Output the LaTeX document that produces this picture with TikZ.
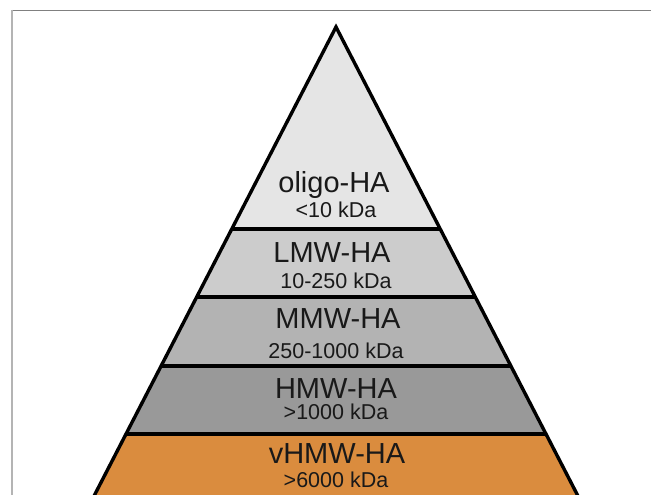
\documentclass[tikz,border=0pt]{standalone}
\usepackage{fontspec}
\setmainfont{Liberation Sans}
\definecolor{bandA}{RGB}{229,229,229}
\definecolor{bandB}{RGB}{204,204,204}
\definecolor{bandC}{RGB}{179,179,179}
\definecolor{bandD}{RGB}{153,153,153}
\definecolor{bandE}{RGB}{218,140,62}
\definecolor{frametop}{RGB}{128,128,128}
\definecolor{frameleft}{RGB}{180,180,180}
\tikzset{
  title/.style={anchor=base, inner sep=0pt, font=\fontsize{29}{29}\selectfont, text=black!90},
  sub/.style={anchor=base, inner sep=0pt, font=\fontsize{21.5}{21.5}\selectfont, text=black!90},
  edge/.style={line width=3.4pt, line join=miter}
}
\begin{document}
\begin{tikzpicture}[x=1pt,y=-1pt]
\useasboundingbox (0,0) rectangle (651,495);
\clip (0,0) rectangle (651,495);
\fill[white] (0,0) rectangle (651,495);
% frame
\draw[frametop, line width=1.6pt] (11,10.5) -- (651,10.5);
\draw[frameleft, line width=2pt] (12,10) -- (12,495);
% bands
\fill[bandA] (336,27) -- (440.2,229) -- (231.8,229) -- cycle;
\fill[bandB] (231.8,229) -- (440.2,229) -- (475.3,297) -- (196.7,297) -- cycle;
\fill[bandC] (196.7,297) -- (475.3,297) -- (510.9,366) -- (161.1,366) -- cycle;
\fill[bandD] (161.1,366) -- (510.9,366) -- (546.0,434) -- (126.0,434) -- cycle;
\fill[bandE] (126.0,434) -- (546.0,434) -- (585.2,510) -- (86.8,510) -- cycle;
% outline and separators
\draw[edge] (86.8,510) -- (336,27) -- (585.2,510);
\draw[edge] (231.8,229) -- (440.2,229);
\draw[edge] (196.7,297) -- (475.3,297);
\draw[edge] (161.1,366) -- (510.9,366);
\draw[edge] (126.0,434) -- (546.0,434);
% labels
\node[title] (t1) at (334,192) {oligo-HA};
\node[sub] (s1) at (336,217) {<10 kDa};
\node[title] (t2) at (332,262) {LMW-HA};
\node[sub] (s2) at (336,288) {10-250 kDa};
\node[title] (t3) at (338,328) {MMW-HA};
\node[sub] (s3) at (336,358) {250-1000 kDa};
\node[title] (t4) at (336,398) {HMW-HA};
\node[sub] (s4) at (336,419) {>1000 kDa};
\node[title] (t5) at (337,463) {vHMW-HA};
\node[sub] (s5) at (336,487.5) {>6000 kDa};
\end{tikzpicture}
\end{document}
